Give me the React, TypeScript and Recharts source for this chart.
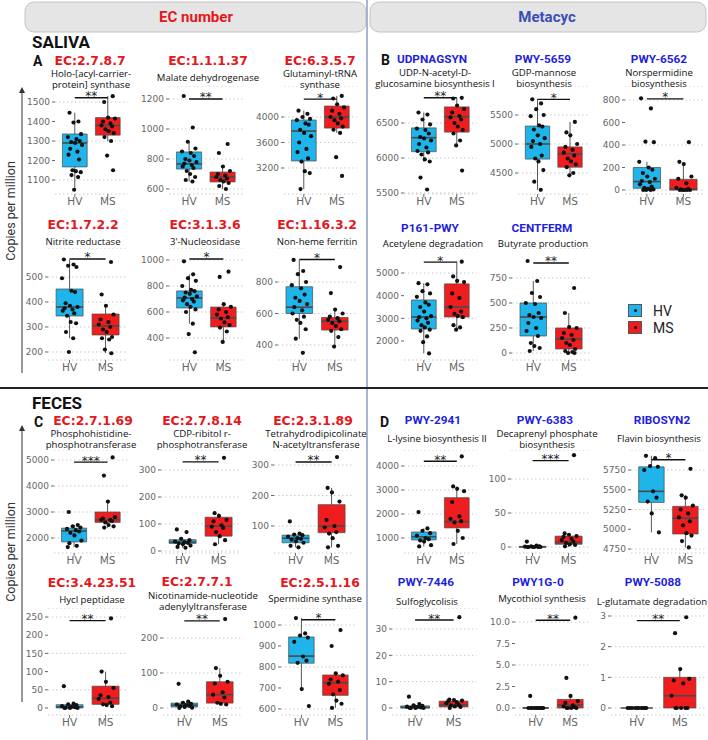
import React from 'react';
import {
  ComposedChart, Scatter, XAxis, YAxis, CartesianGrid, ReferenceArea, ReferenceLine, ReferenceDot,
} from 'recharts';

// ---- data (copies per million) ----
// five-number boxes are [whisker low, q1, median, q3, whisker high]
const ec2787HV = [1445, 1400, 1395, 1335, 1320, 1310, 1300, 1295, 1290, 1280, 1260, 1245, 1230, 1205, 1150, 1145, 1140, 1125, 1115, 1050];
const ec2787MS = [1530, 1500, 1420, 1415, 1400, 1390, 1380, 1375, 1360, 1350, 1340, 1320, 1300, 1225, 1150];
const ec2787Box = [[1050, 1167, 1290, 1336, 1445], [1300, 1330, 1380, 1420, 1530]];
const ec2787Ticks = [1100, 1200, 1300, 1400, 1500];

const ec11137HV = [1220, 1010, 915, 870, 850, 840, 820, 800, 790, 780, 770, 760, 750, 740, 720, 700, 680, 660, 650];
const ec11137MS = [900, 840, 750, 720, 700, 690, 680, 670, 660, 650, 640, 620, 600];
const ec11137Box = [[650, 733, 767, 847, 915], [600, 647, 680, 713, 750]];
const ec11137Ticks = [600, 800, 1000, 1200];

const ec6357HV = [4100, 4050, 4000, 3970, 3950, 3900, 3880, 3800, 3750, 3700, 3600, 3500, 3450, 3350, 3300, 3150, 3120, 2870];
const ec6357MS = [4330, 4290, 4200, 4150, 4100, 4050, 4000, 3980, 3950, 3900, 3850, 3800, 3750, 3370, 3075];
const ec6357Box = [[2870, 3310, 3780, 3953, 4100], [3750, 3826, 4000, 4172, 4330]];
const ec6357Ticks = [3200, 3600, 4000];

const udpHV = [6650, 6620, 6550, 6480, 6420, 6400, 6350, 6300, 6280, 6250, 6200, 6150, 6100, 6080, 6050, 5980, 5950, 5720, 5550];
const udpMS = [6860, 6850, 6750, 6700, 6650, 6600, 6580, 6550, 6500, 6450, 6400, 6350, 6250, 6180, 5820];
const udpBox = [[5950, 6090, 6290, 6430, 6650], [6180, 6370, 6590, 6730, 6860]];
const udpTicks = [5500, 6000, 6500];

const pwy5659HV = [5770, 5700, 5600, 5500, 5480, 5320, 5300, 5250, 5150, 5100, 5050, 5000, 4950, 4800, 4750, 4700, 4550, 4350, 4210];
const pwy5659MS = [5380, 5200, 5150, 5000, 4950, 4900, 4850, 4800, 4750, 4700, 4650, 4600, 4500, 4460];
const pwy5659Box = [[4210, 4740, 5000, 5310, 5770], [4460, 4600, 4830, 4950, 5380]];
const pwy5659Ticks = [4500, 5000, 5500];

const pwy6562HV = [815, 725, 430, 425, 250, 200, 180, 150, 120, 100, 80, 70, 50, 30, 20, 10, 5, 0, 0, 0];
const pwy6562MS = [425, 250, 230, 120, 100, 60, 20, 10, 5, 0, 0, 0, 0, 0];
const pwy6562Box = [[0, 15, 75, 200, 250], [0, 0, 5, 95, 230]];
const pwy6562Ticks = [0, 200, 400, 600, 800];

const ec1722HV = [570, 550, 545, 540, 495, 445, 440, 395, 385, 380, 375, 370, 365, 355, 345, 320, 315, 280, 255, 200];
const ec1722MS = [560, 430, 385, 350, 330, 320, 310, 300, 290, 280, 260, 255, 250, 210, 195];
const ec1722Box = [[255, 344, 380, 452, 570], [195, 268, 304, 352, 385]];
const ec1722Ticks = [200, 300, 400, 500];

const ec3136HV = [990, 890, 860, 840, 800, 770, 760, 750, 740, 720, 710, 700, 690, 680, 660, 640, 620, 600, 510, 430, 290];
const ec3136MS = [910, 870, 660, 640, 620, 600, 580, 560, 550, 520, 500, 480, 450, 370];
const ec3136Box = [[510, 631, 708, 762, 890], [370, 485, 554, 638, 660]];
const ec3136Ticks = [400, 600, 800, 1000];

const ec11632HV = [940, 870, 850, 800, 780, 760, 720, 700, 680, 660, 640, 620, 600, 580, 560, 540, 500, 440, 350];
const ec11632MS = [895, 730, 625, 600, 580, 570, 560, 550, 540, 520, 500, 490, 450, 390];
const ec11632Box = [[440, 600, 640, 770, 940], [390, 495, 550, 575, 625]];
const ec11632Ticks = [400, 600, 800];

const p161HV = [4550, 4500, 4200, 4100, 3950, 3700, 3600, 3500, 3300, 3100, 3050, 3000, 2900, 2800, 2700, 2600, 2500, 2450, 2200, 1950, 1450];
const p161MS = [5500, 4850, 4650, 4600, 4100, 3900, 3500, 3300, 3200, 3100, 3050, 2700, 2600, 2500];
const p161Box = [[1450, 2530, 3060, 3810, 4550], [2500, 3060, 3500, 4520, 5500]];
const p161Ticks = [2000, 3000, 4000, 5000];

const centHV = [920, 720, 600, 560, 500, 490, 400, 380, 360, 350, 300, 250, 220, 170, 100, 70, 50, 20];
const centMS = [650, 400, 260, 250, 200, 180, 150, 130, 100, 80, 40, 20, 10, 0, 0];
const centBox = [[20, 170, 360, 500, 720], [0, 40, 140, 250, 400]];
const centTicks = [0, 250, 500, 750];

const ec27169HV = [3000, 2500, 2450, 2400, 2350, 2300, 2250, 2200, 2100, 1900, 1800, 1700, 1650];
const ec27169MS = [5100, 4400, 3400, 2800, 2750, 2700, 2700, 2650, 2600, 2500, 2450, 2400];
const ec27169Box = [[1650, 1850, 2270, 2380, 2500], [2400, 2600, 2700, 3000, 3400]];
const ec27169Ticks = [2000, 3000, 4000, 5000];

const ec27814HV = [80, 70, 45, 40, 35, 33, 30, 28, 25, 20, 15, 12];
const ec27814MS = [345, 140, 130, 115, 110, 95, 90, 85, 70, 55, 40, 25];
const ec27814Box = [[12, 28, 33, 42, 45], [25, 55, 92, 125, 140]];
const ec27814Ticks = [0, 100, 200, 300];

const ec23189HV = [115, 75, 72, 70, 65, 60, 58, 55, 50, 45, 35, 30];
const ec23189MS = [326, 225, 210, 180, 120, 100, 95, 80, 75, 60, 35, 30];
const ec23189Box = [[30, 45, 60, 70, 75], [30, 78, 100, 170, 225]];
const ec23189Ticks = [100, 200, 300];

const pwy2941HV = [2080, 1400, 1300, 1200, 1100, 1000, 950, 900, 850, 700, 650];
const pwy2941MS = [4400, 3150, 3050, 2950, 2500, 1900, 1800, 1700, 1650, 1300, 1000, 750];
const pwy2941Box = [[650, 920, 1050, 1250, 1400], [750, 1420, 1680, 2680, 3150]];
const pwy2941Ticks = [1000, 2000, 3000, 4000];

const pwy6383HV = [8, 2, 1, 1, 0.5, 0, 0, 0, 0, 0, 0];
const pwy6383MS = [135, 20, 18, 16, 15, 12, 10, 8, 6, 4, 3, 1];
const pwy6383Box = [[0, 0, 0, 1, 2], [0, 4, 7, 16, 20]];
const pwy6383Ticks = [0, 50, 100];

const riboHV = [5930, 5900, 5800, 5790, 5750, 5480, 5400, 5350, 5200, 4960];
const riboMS = [5765, 5430, 5400, 5300, 5250, 5200, 5150, 5100, 5050, 4950, 4920, 4850, 4770];
const riboBox = [[4960, 5340, 5480, 5790, 5930], [4770, 4940, 5140, 5290, 5430]];
const riboTicks = [4750, 5000, 5250, 5500, 5750];

const ec342351HV = [60, 12, 10, 8, 5, 3, 2, 1, 0, 0, 0];
const ec342351MS = [246, 100, 72, 55, 35, 30, 25, 15, 10, 8, 5];
const ec342351Box = [[0, 0, 3, 9, 12], [5, 10, 27, 60, 100]];
const ec342351Ticks = [0, 50, 100, 150, 200, 250];

const ec2771HV = [69, 18, 15, 12, 10, 8, 6, 5, 3, 1, 0];
const ec2771MS = [254, 114, 92, 75, 70, 45, 38, 30, 15, 12, 10];
const ec2771Box = [[0, 3, 8, 14, 18], [10, 14, 38, 75, 114]];
const ec2771Ticks = [0, 100, 200];

const ec25116HV = [1033, 960, 950, 940, 920, 850, 830, 820, 695, 614];
const ec25116MS = [976, 900, 770, 760, 740, 730, 720, 690, 670, 640, 625, 605];
const ec25116Box = [[695, 818, 852, 943, 1033], [605, 665, 725, 762, 770]];
const ec25116Ticks = [600, 700, 800, 900, 1000];

const pwy7446HV = [4.3, 1.5, 1, 0.8, 0.5, 0.3, 0.2, 0, 0, 0, 0];
const pwy7446MS = [34.5, 3.2, 3, 2.8, 2.6, 2.2, 1.8, 1.2, 1, 0.6, 0.4, 0];
const pwy7446Box = [[0, 0, 0.2, 0.8, 1.5], [0, 0.4, 1.2, 2.6, 3.2]];
const pwy7446Ticks = [0, 10, 20, 30];

const pwy1g0HV = [1.4, 0, 0, 0, 0, 0, 0, 0, 0, 0, 0];
const pwy1g0MS = [10.5, 3.5, 1.4, 0.8, 0.6, 0.3, 0.2, 0.1, 0, 0, 0, 0];
const pwy1g0Box = [[0, 0, 0, 0.05, 0.05], [0, 0, 0.35, 1.0, 1.4]];
const pwy1g0Ticks = [0, 2.5, 5, 7.5, 10];

const pwy5088HV = [0, 0, 0, 0, 0, 0, 0, 0, 0, 0];
const pwy5088MS = [2.96, 2.44, 1.27, 0.95, 0.9, 0.8, 0.4, 0, 0, 0, 0, 0];
const pwy5088Box = [[0, 0, 0, 0, 0], [0, 0, 0.4, 1.0, 1.27]];
const pwy5088Ticks = [0, 1, 2, 3];

// significance bracket heights and labels, panel order A..D
const SIG_Y = [1522, 1200, 4280, 6860, 5770, 810, 572, 1008, 943, 5480, 900,
  4920, 330, 310, 4200, 127, 5880, 240, 249, 1025, 33.4, 10.2, 2.85];
const SIG_TXT = ['**', '**', '*', '**', '*', '*', '*', '*', '*', '*', '**',
  '***', '**', '**', '**', '***', '*', '**', '**', '*', '**', '**', '**'];

// horizontal jitter of the dots
const JIT = [-0.16, 0.11, -0.04, 0.19, -0.21, 0.05, 0.15, -0.11, 0.01, 0.22, -0.14, 0.08, -0.19, 0.13, -0.07, 0.03, 0.18, -0.1, 0.1, -0.02, 0.16];

const HV_FILL = '#1fb4ea';
const MS_FILL = '#ef1d1d';
const RED = '#e5171c';
const BLUE = '#1f1fdb';

const ROW_TOP = [86, 248, 450, 608];
const ROW_BOT = [194, 360, 553, 715];

type Panel = {
  code: string; name: string[]; blue?: boolean;
  hv: number[]; ms: number[]; box: number[][]; ticks: number[];
  hvX: number; msX: number; row: number; cal: number[];
  tx: number; ty: number; sx: number; sy: number;
};

const PANELS: Panel[] = [
  { code: 'EC:2.7.8.7', name: ['Holo-[acyl-carrier-', 'protein] synthase'], hv: ec2787HV, ms: ec2787MS, box: ec2787Box, ticks: ec2787Ticks, hvX: 75, msX: 108, row: 0, cal: [1500, 102, 1100, 180], tx: 90, ty: 61, sx: 91, sy: 73 },
  { code: 'EC:1.1.1.37', name: ['Malate dehydrogenase'], hv: ec11137HV, ms: ec11137MS, box: ec11137Box, ticks: ec11137Ticks, hvX: 189.5, msX: 223, row: 0, cal: [1200, 99, 600, 189], tx: 208, ty: 61, sx: 208, sy: 77 },
  { code: 'EC:6.3.5.7', name: ['Glutaminyl-tRNA', 'synthase'], hv: ec6357HV, ms: ec6357MS, box: ec6357Box, ticks: ec6357Ticks, hvX: 304, msX: 337, row: 0, cal: [4000, 117, 3200, 168], tx: 320, ty: 61, sx: 320, sy: 73 },
  { code: 'UDPNAGSYN', blue: true, name: ['UDP-N-acetyl-D-', 'glucosamine biosynthesis I'], hv: udpHV, ms: udpMS, box: udpBox, ticks: udpTicks, hvX: 424, msX: 457, row: 0, cal: [6500, 123, 5500, 193], tx: 432, ty: 60, sx: 435, sy: 72.5 },
  { code: 'PWY-5659', blue: true, name: ['GDP-mannose', 'biosynthesis'], hv: pwy5659HV, ms: pwy5659MS, box: pwy5659Box, ticks: pwy5659Ticks, hvX: 537.5, msX: 570, row: 0, cal: [5500, 115, 4500, 173], tx: 543, ty: 60, sx: 544, sy: 72.5 },
  { code: 'PWY-6562', blue: true, name: ['Norspermidine', 'biosynthesis'], hv: pwy6562HV, ms: pwy6562MS, box: pwy6562Box, ticks: pwy6562Ticks, hvX: 646.5, msX: 683, row: 0, cal: [800, 100, 0, 190], tx: 659, ty: 60, sx: 659, sy: 72 },
  { code: 'EC:1.7.2.2', name: ['Nitrite reductase'], hv: ec1722HV, ms: ec1722MS, box: ec1722Box, ticks: ec1722Ticks, hvX: 70, msX: 106, row: 1, cal: [500, 277, 200, 352], tx: 83, ty: 225, sx: 83, sy: 241 },
  { code: 'EC:3.1.3.6', name: ["3'-Nucleosidase"], hv: ec3136HV, ms: ec3136MS, box: ec3136Box, ticks: ec3136Ticks, hvX: 189, msX: 223, row: 1, cal: [1000, 260, 400, 338], tx: 205, ty: 225, sx: 205, sy: 241 },
  { code: 'EC:1.16.3.2', name: ['Non-heme ferritin'], hv: ec11632HV, ms: ec11632MS, box: ec11632Box, ticks: ec11632Ticks, hvX: 299.5, msX: 335, row: 1, cal: [800, 282, 400, 345], tx: 317, ty: 225, sx: 317, sy: 241 },
  { code: 'P161-PWY', blue: true, name: ['Acetylene degradation'], hv: p161HV, ms: p161MS, box: p161Box, ticks: p161Ticks, hvX: 424, msX: 457, row: 1, cal: [5000, 273, 2000, 341], tx: 430, ty: 229, sx: 433, sy: 243 },
  { code: 'CENTFERM', blue: true, name: ['Butyrate production'], hv: centHV, ms: centMS, box: centBox, ticks: centTicks, hvX: 533.5, msX: 569, row: 1, cal: [750, 278, 0, 353], tx: 542, ty: 229, sx: 543, sy: 243 },
  { code: 'EC:2.7.1.69', name: ['Phosphohistidine-', 'phosphotransferase'], hv: ec27169HV, ms: ec27169MS, box: ec27169Box, ticks: ec27169Ticks, hvX: 74.5, msX: 108, row: 2, cal: [5000, 460, 2000, 538], tx: 93, ty: 421, sx: 91, sy: 433.5 },
  { code: 'EC:2.7.8.14', name: ['CDP-ribitol r-', 'phosphotransferase'], hv: ec27814HV, ms: ec27814MS, box: ec27814Box, ticks: ec27814Ticks, hvX: 183, msX: 219, row: 2, cal: [300, 470, 0, 551], tx: 202, ty: 421, sx: 202, sy: 433.5 },
  { code: 'EC:2.3.1.89', name: ['Tetrahydrodipicolinate', 'N-acetyltransferase'], hv: ec23189HV, ms: ec23189MS, box: ec23189Box, ticks: ec23189Ticks, hvX: 296, msX: 332, row: 2, cal: [300, 465, 100, 526], tx: 313, ty: 421, sx: 316, sy: 433.5 },
  { code: 'PWY-2941', blue: true, name: ['L-lysine biosynthesis II'], hv: pwy2941HV, ms: pwy2941MS, box: pwy2941Box, ticks: pwy2941Ticks, hvX: 424, msX: 457, row: 2, cal: [4000, 466, 1000, 538], tx: 433, ty: 421, sx: 437, sy: 438 },
  { code: 'PWY-6383', blue: true, name: ['Decaprenyl phosphate', 'biosynthesis'], hv: pwy6383HV, ms: pwy6383MS, box: pwy6383Box, ticks: pwy6383Ticks, hvX: 533, msX: 569, row: 2, cal: [100, 479, 0, 547], tx: 545, ty: 421, sx: 547, sy: 433.5 },
  { code: 'RIBOSYN2', blue: true, name: ['Flavin biosynthesis'], hv: riboHV, ms: riboMS, box: riboBox, ticks: riboTicks, hvX: 651, msX: 685, row: 2, cal: [5750, 470, 4750, 549], tx: 662, ty: 421, sx: 659, sy: 438 },
  { code: 'EC:3.4.23.51', name: ['Hycl peptidase'], hv: ec342351HV, ms: ec342351MS, box: ec342351Box, ticks: ec342351Ticks, hvX: 70, msX: 106, row: 3, cal: [250, 617, 0, 708], tx: 92, ty: 583, sx: 92, sy: 599 },
  { code: 'EC:2.7.7.1', name: ['Nicotinamide-nucleotide', 'adenylyltransferase'], hv: ec2771HV, ms: ec2771MS, box: ec2771Box, ticks: ec2771Ticks, hvX: 184, msX: 219.5, row: 3, cal: [200, 638, 0, 708], tx: 197, ty: 582, sx: 203, sy: 595.5 },
  { code: 'EC:2.5.1.16', name: ['Spermidine synthase'], hv: ec25116HV, ms: ec25116MS, box: ec25116Box, ticks: ec25116Ticks, hvX: 301, msX: 335, row: 3, cal: [1000, 625, 600, 709], tx: 320, ty: 583, sx: 315, sy: 598 },
  { code: 'PWY-7446', blue: true, name: ['Sulfoglycolisis'], hv: pwy7446HV, ms: pwy7446MS, box: pwy7446Box, ticks: pwy7446Ticks, hvX: 415.5, msX: 454, row: 3, cal: [30, 629, 0, 708], tx: 426, ty: 583, sx: 427, sy: 601 },
  { code: 'PWY1G-0', blue: true, name: ['Mycothiol synthesis'], hv: pwy1g0HV, ms: pwy1g0MS, box: pwy1g0Box, ticks: pwy1g0Ticks, hvX: 535.5, msX: 570, row: 3, cal: [10, 622, 0, 708], tx: 538, ty: 583, sx: 542, sy: 598 },
  { code: 'PWY-5088', blue: true, name: ['L-glutamate degradation'], hv: pwy5088HV, ms: pwy5088MS, box: pwy5088Box, ticks: pwy5088Ticks, hvX: 636.5, msX: 679.5, row: 3, cal: [3, 616, 0, 708], tx: 653, ty: 583, sx: 652, sy: 601 },
];

const YW = 40;
const XH = 18;
const BOX_HALF = 0.375;
const SUB_LH = 11;

const dot = (p: any) => <circle cx={p.cx} cy={p.cy} r={2.1} fill="#111" />;

function BoxPlot({ p, idx }: { p: Panel; idx: number }) {
  const u = p.msX - p.hvX;
  const left = p.hvX - 0.6 * u;
  const plotW = 2.2 * u;
  const top = ROW_TOP[p.row];
  const bottom = ROW_BOT[p.row];
  const [v1, y1, v2, y2] = p.cal;
  const k = (y2 - y1) / (v1 - v2);
  const hi = v1 + (y1 - top) / k;
  const lo = v2 - (bottom - y2) / k;
  const pts = [
    ...p.hv.map((v, i) => ({ x: 1 + JIT[i % JIT.length], y: v })),
    ...p.ms.map((v, i) => ({ x: 2 + JIT[(i + 6) % JIT.length], y: v })),
  ];
  const dec = p.ticks.some((t) => t % 1 !== 0);
  const sig = SIG_Y[idx];
  const stars = SIG_TXT[idx];
  return (
    <div style={{ position: 'absolute', left: left - YW, top }}>
      <ComposedChart width={YW + plotW} height={bottom - top + XH} margin={{ top: 0, right: 0, left: 0, bottom: 0 }}>
        <CartesianGrid vertical={false} stroke="#c9c9c9" strokeDasharray="1.5 2.5" />
        <XAxis type="number" dataKey="x" domain={[0.4, 2.6]} ticks={[1, 2]} allowDataOverflow
          tickFormatter={(v: number) => (v === 1 ? 'HV' : 'MS')} height={XH} axisLine={false}
          tickSize={3} tickMargin={1} tickLine={{ stroke: '#666' }}
          tick={{ fontSize: 10.5, fill: '#666', fontFamily: 'DejaVu Sans' }} />
        <YAxis type="number" dataKey="y" domain={[lo, hi]} ticks={p.ticks} allowDataOverflow width={YW}
          axisLine={false} tickSize={3} tickMargin={2} tickLine={{ stroke: '#666' }}
          tickFormatter={(v: number) => (dec ? v.toFixed(1) : String(v))}
          tick={{ fontSize: 9, fill: '#666', fontFamily: 'DejaVu Sans' }} />
        {p.box.map((b, g) => {
          const c = g + 1;
          return (
            <React.Fragment key={g}>
              <ReferenceLine segment={[{ x: c, y: b[0] }, { x: c, y: b[1] }]} stroke="#444" strokeWidth={0.9} />
              <ReferenceLine segment={[{ x: c, y: b[3] }, { x: c, y: b[4] }]} stroke="#444" strokeWidth={0.9} />
              <ReferenceArea x1={c - BOX_HALF} x2={c + BOX_HALF} y1={b[1]} y2={b[3]}
                fill={g === 0 ? HV_FILL : MS_FILL} fillOpacity={1} stroke="#4a4a4a" strokeWidth={0.7} />
              <ReferenceLine segment={[{ x: c - BOX_HALF, y: b[2] }, { x: c + BOX_HALF, y: b[2] }]} stroke="#4a4a4a" strokeWidth={1.6} />
            </React.Fragment>
          );
        })}
        <ReferenceLine segment={[{ x: 1, y: sig }, { x: 2, y: sig }]} stroke="#111" strokeWidth={1.4} />
        <ReferenceDot x={1.5} y={sig} r={0}
          shape={(s: any) => (
            <text x={s.cx} y={s.cy + 2.5} textAnchor="middle" fontSize={12} fill="#222" fontFamily="DejaVu Sans">{stars}</text>
          )} />
        <Scatter data={pts} dataKey="y" isAnimationActive={false} shape={dot} />
      </ComposedChart>
    </div>
  );
}

function Titles({ p }: { p: Panel }) {
  // sy is the centre of the first subtitle line
  const blockTop = p.sy - SUB_LH / 2;
  return (
    <>
      <div style={{
        position: 'absolute', left: p.tx, top: p.ty, transform: 'translate(-50%, -50%)', whiteSpace: 'nowrap', lineHeight: 1,
        color: p.blue ? BLUE : RED, fontWeight: 700,
        fontFamily: p.blue ? 'Roboto' : 'DejaVu Sans', fontSize: p.blue ? 11.8 : 12.4,
      }}>{p.code}</div>
      <div style={{
        position: 'absolute', left: p.sx, top: blockTop, transform: 'translateX(-50%)', textAlign: 'center',
        whiteSpace: 'nowrap', lineHeight: `${SUB_LH}px`, fontFamily: 'Open Sans', fontSize: 9.6, color: '#111',
      }}>
        {p.name.map((line, i) => (
          <React.Fragment key={i}>{i > 0 && <br />}{line}</React.Fragment>
        ))}
      </div>
    </>
  );
}

const label = (text: string, x: number, y: number, size: number): React.ReactNode => (
  <div style={{ position: 'absolute', left: x, top: y, transform: 'translateY(-50%)', fontFamily: 'Roboto', fontWeight: 700, fontSize: size, lineHeight: 1, color: '#111' }}>{text}</div>
);

export default function App() {
  return (
    <div style={{ position: 'absolute', left: 0, top: 0, width: 708, height: 740, background: '#fff', overflow: 'hidden', fontFamily: 'Roboto' }}>
      <svg width={708} height={740} style={{ position: 'absolute', left: 0, top: 0 }}>
        <defs>
          <marker id="arr" markerWidth="6" markerHeight="6" refX="3" refY="3" orient="auto">
            <path d="M0,0 L6,3 L0,6 z" fill="#333" />
          </marker>
        </defs>
        <rect x={25} y={2} width={341} height={30} rx={9} fill="#e5e5e5" stroke="#c4c4c4" />
        <rect x={370} y={2} width={336} height={30} rx={9} fill="#e5e5e5" stroke="#c4c4c4" />
        <line x1={367} y1={0} x2={367} y2={740} stroke="#8d9cc4" strokeWidth={1.5} />
        <line x1={0} y1={388} x2={708} y2={388} stroke="#222" strokeWidth={2} />
        <line x1={22} y1={373} x2={22} y2={90} stroke="#333" strokeWidth={1} markerEnd="url(#arr)" />
        <line x1={22} y1={702} x2={22} y2={428} stroke="#333" strokeWidth={1} markerEnd="url(#arr)" />
        <text x={10} y={211} transform="rotate(-90 10 211)" textAnchor="middle" dominantBaseline="central" fontFamily="Roboto" fontSize={12.5} fill="#333">Copies per million</text>
        <text x={10} y={552} transform="rotate(-90 10 552)" textAnchor="middle" dominantBaseline="central" fontFamily="Roboto" fontSize={12.5} fill="#333">Copies per million</text>
      </svg>
      <div style={{ position: 'absolute', left: 196, top: 17, transform: 'translate(-50%, -50%)', color: RED, fontFamily: 'Roboto', fontWeight: 700, fontSize: 15, lineHeight: 1, whiteSpace: 'nowrap' }}>EC number</div>
      <div style={{ position: 'absolute', left: 547, top: 17, transform: 'translate(-50%, -50%)', color: '#3d4db7', fontFamily: 'Roboto', fontWeight: 700, fontSize: 15, lineHeight: 1, whiteSpace: 'nowrap' }}>Metacyc</div>
      {label('SALIVA', 32, 42, 17)}
      {label('FECES', 32, 403, 17)}
      {label('A', 33, 61, 14)}
      {label('B', 381, 60, 14)}
      {label('C', 34, 422, 14)}
      {label('D', 380, 422, 14)}
      {PANELS.map((p, i) => <BoxPlot key={p.code} p={p} idx={i} />)}
      {PANELS.map((p) => <Titles key={p.code} p={p} />)}
      <div style={{ position: 'absolute', left: 628, top: 302 }}>
        {[['HV', HV_FILL], ['MS', MS_FILL]].map(([t, c]) => (
          <div key={t} style={{ display: 'flex', alignItems: 'center', height: 17 }}>
            <div style={{ width: 12, height: 11, background: c, border: '1px solid #555', position: 'relative' }}>
              <div style={{ position: 'absolute', left: 5, top: 4, width: 3, height: 3, borderRadius: 2, background: '#111' }} />
            </div>
            <span style={{ marginLeft: 11, fontFamily: 'Roboto', fontSize: 14, color: '#222' }}>{t}</span>
          </div>
        ))}
      </div>
    </div>
  );
}
